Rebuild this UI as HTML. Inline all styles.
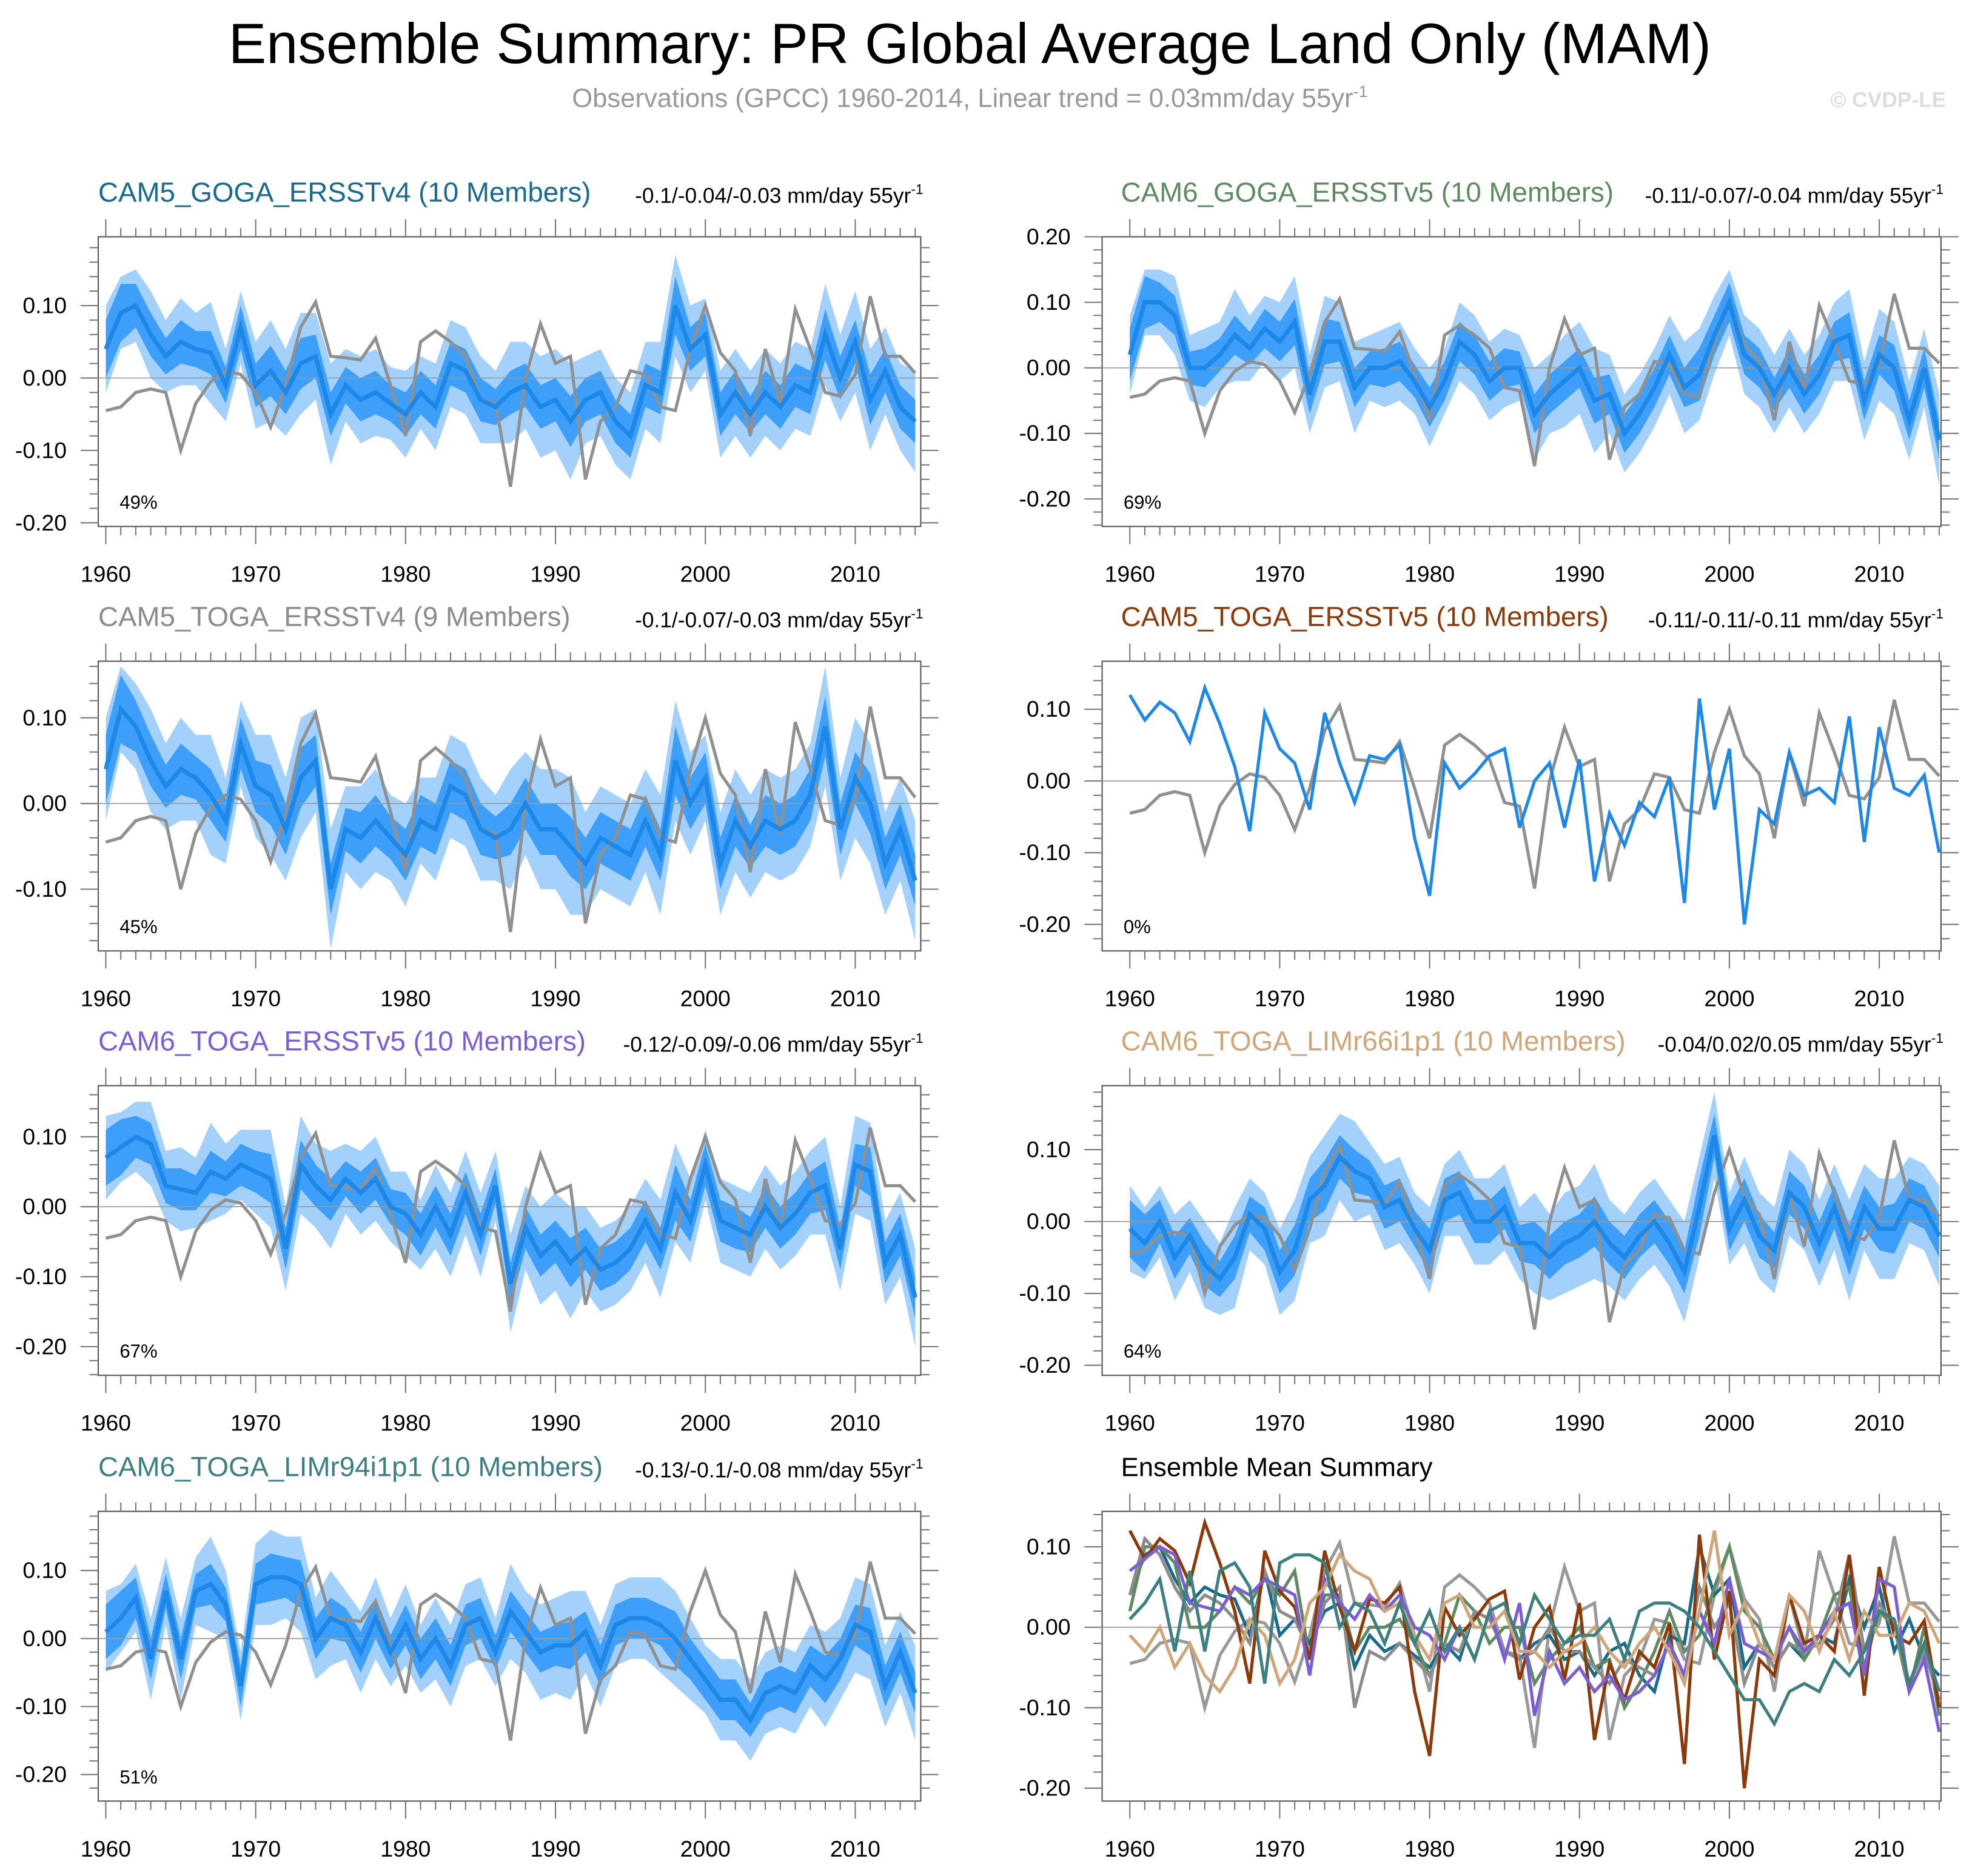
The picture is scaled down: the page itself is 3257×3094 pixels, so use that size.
<!DOCTYPE html>
<html><head><meta charset="utf-8"><style>
html,body{margin:0;padding:0;background:#fff}
svg{display:block}
text{font-family:"Liberation Sans",Arial,sans-serif}
</style></head><body>
<svg id="chart" width="3257" height="3094" viewBox="0 0 1568 1489.5" preserveAspectRatio="none" xmlns="http://www.w3.org/2000/svg">
<text x="770" y="50" font-size="45" text-anchor="middle" fill="#000">Ensemble Summary: PR Global Average Land Only (MAM)</text>
<text x="770" y="85" font-size="21" text-anchor="middle" fill="#999">Observations (GPCC) 1960-2014, Linear trend = 0.03mm/day 55yr<tspan dy="-8" font-size="13">-1</tspan></text>
<text x="1545" y="85" font-size="17" font-weight="bold" text-anchor="end" fill="#ddd">© CVDP-LE</text>
<g id="plots"></g>
</svg>
<script>
const years = [];
for (let y = 1960; y <= 2014; y++) years.push(y);
const obs = [-0.045,-0.04,-0.02,-0.015,-0.02,-0.10,-0.035,-0.005,0.01,0.005,-0.02,-0.068,-0.01,0.07,0.105,0.03,0.028,0.025,0.055,-0.01,-0.08,0.05,0.065,0.05,0.03,-0.03,-0.035,-0.15,0.0,0.075,0.02,0.03,-0.14,-0.06,-0.04,0.01,0.005,-0.04,-0.045,0.04,0.10,0.035,0.01,-0.08,0.04,-0.035,0.095,0.04,-0.02,-0.025,0.005,0.113,0.03,0.03,0.007];
const meanCAM5GOGA = [0.04,0.09,0.10,0.06,0.03,0.05,0.04,0.035,-0.01,0.07,-0.01,0.01,-0.02,0.02,0.03,-0.05,-0.01,-0.03,-0.02,-0.035,-0.05,-0.02,-0.04,0.02,0.01,-0.03,-0.04,-0.02,-0.01,-0.04,-0.03,-0.06,-0.03,-0.02,-0.06,-0.08,-0.01,-0.02,0.10,0.04,0.06,-0.05,-0.02,-0.05,-0.02,-0.04,-0.01,-0.02,0.06,0.0,0.05,-0.03,0.01,-0.04,-0.06];
const meanCAM6GOGA = [0.02,0.10,0.10,0.08,0.0,0.0,0.02,0.05,0.03,0.06,0.04,0.07,-0.04,0.04,0.04,-0.03,0.0,0.0,0.01,-0.02,-0.06,-0.02,0.04,0.02,-0.02,0.0,0.0,-0.07,-0.04,-0.02,0.0,-0.05,-0.04,-0.10,-0.07,-0.03,0.02,-0.03,-0.01,0.05,0.10,0.02,0.0,-0.04,0.0,-0.04,-0.01,0.04,0.05,-0.05,0.02,0.0,-0.08,0.0,-0.11];
const meanCAM5TOGAv4 = [0.04,0.11,0.09,0.05,0.02,0.04,0.03,0.01,-0.02,0.07,0.02,0.01,-0.03,0.03,0.05,-0.10,-0.03,-0.04,-0.02,-0.04,-0.06,-0.02,-0.03,0.02,0.01,-0.03,-0.04,-0.03,0.0,-0.03,-0.03,-0.05,-0.07,-0.04,-0.05,-0.06,-0.02,-0.06,0.05,0.0,0.03,-0.07,-0.02,-0.05,-0.02,-0.03,-0.02,0.01,0.09,-0.03,0.03,0.0,-0.07,-0.03,-0.09];
const meanCAM5TOGAv5 = [0.12,0.085,0.11,0.095,0.055,0.13,0.08,0.02,-0.07,0.095,0.045,0.025,-0.04,0.095,0.025,-0.03,0.035,0.03,0.05,-0.08,-0.16,0.025,-0.01,0.01,0.035,0.045,-0.065,0.0,0.025,-0.065,0.03,-0.14,-0.045,-0.09,-0.03,-0.05,0.005,-0.17,0.115,-0.04,0.045,-0.20,-0.04,-0.06,0.04,-0.02,-0.01,-0.03,0.09,-0.085,0.075,-0.01,-0.02,0.008,-0.10];
const meanCAM6TOGAv5 = [0.07,0.085,0.10,0.09,0.03,0.025,0.02,0.05,0.04,0.06,0.05,0.04,-0.06,0.06,0.03,0.01,0.04,0.02,0.04,0.0,-0.01,-0.04,0.0,-0.04,0.02,-0.04,0.03,-0.11,-0.03,-0.07,-0.05,-0.08,-0.06,-0.09,-0.08,-0.06,-0.02,-0.06,0.02,-0.02,0.06,-0.02,-0.03,-0.04,0.0,-0.03,-0.01,0.02,0.03,-0.06,0.06,0.05,-0.08,-0.04,-0.13];
const meanLIMr66 = [-0.01,-0.03,0.0,-0.05,-0.02,-0.06,-0.08,-0.05,0.01,-0.01,-0.07,-0.04,0.03,0.05,0.09,0.07,0.06,0.02,0.03,-0.01,-0.04,0.03,0.04,0.0,0.0,0.02,-0.03,-0.03,-0.05,-0.03,-0.02,0.0,-0.03,-0.05,-0.02,0.0,-0.03,-0.07,0.02,0.12,-0.01,0.03,-0.02,-0.04,0.04,0.02,-0.03,0.02,-0.04,0.02,-0.01,-0.01,0.03,0.02,-0.02];
const meanLIMr94 = [0.01,0.03,0.06,-0.03,0.07,-0.03,0.07,0.08,0.05,-0.07,0.08,0.09,0.09,0.08,0.0,0.03,0.02,-0.02,0.03,-0.02,0.02,-0.03,0.0,-0.04,0.02,0.03,-0.02,0.04,0.01,-0.02,-0.01,-0.01,0.01,-0.04,0.02,0.03,0.03,0.02,0.0,-0.03,-0.06,-0.09,-0.09,-0.12,-0.08,-0.07,-0.08,-0.04,-0.06,-0.03,0.02,0.01,-0.07,-0.02,-0.08];
const innerHW = [0.04,0.04,0.03,0.03,0.025,0.03,0.025,0.03,0.025,0.03,0.03,0.035,0.03,0.035,0.03,0.03,0.025,0.03,0.03,0.025,0.03,0.03,0.03,0.03,0.03,0.03,0.025,0.03,0.03,0.03,0.03,0.035,0.03,0.03,0.03,0.03,0.03,0.03,0.04,0.03,0.03,0.03,0.03,0.025,0.03,0.03,0.03,0.03,0.035,0.03,0.03,0.035,0.03,0.03,0.03];
const outerHW = [0.06,0.05,0.05,0.06,0.05,0.06,0.05,0.07,0.05,0.05,0.06,0.07,0.06,0.07,0.06,0.07,0.05,0.06,0.06,0.05,0.06,0.05,0.06,0.06,0.06,0.06,0.05,0.07,0.06,0.07,0.07,0.08,0.06,0.06,0.06,0.06,0.06,0.07,0.07,0.06,0.05,0.06,0.06,0.06,0.06,0.06,0.06,0.06,0.07,0.06,0.07,0.07,0.06,0.06,0.07];
const yTicks = [0.20,0.10,0.00,-0.10,-0.20];
const yTickLabels = ["0.20","0.10","0.00","-0.10","-0.20"];
const xTicks = [1960,1970,1980,1990,2000,2010];

const NS = "http://www.w3.org/2000/svg";
const root = document.getElementById("plots");
function el(tag, attrs, parent) {
  const e = document.createElementNS(NS, tag);
  for (const k in attrs) e.setAttribute(k, attrs[k]);
  (parent || root).appendChild(e);
  return e;
}
const panels = [
  {name:"cam5-goga-ersstv4",title:"CAM5_GOGA_ERSSTv4 (10 Members)",color:"#1a6a8c",trend:"-0.1/-0.04/-0.03 mm/day 55yr",pct:"49%",mean:meanCAM5GOGA,col:0,row:0,ymin:-0.205,ymax:0.195,band:true},
  {name:"cam6-goga-ersstv5",title:"CAM6_GOGA_ERSSTv5 (10 Members)",color:"#5f8a62",trend:"-0.11/-0.07/-0.04 mm/day 55yr",pct:"69%",mean:meanCAM6GOGA,col:1,row:0,ymin:-0.242,ymax:0.20,band:true},
  {name:"cam5-toga-ersstv4",title:"CAM5_TOGA_ERSSTv4 (9 Members)",color:"#8c8c8c",trend:"-0.1/-0.07/-0.03 mm/day 55yr",pct:"45%",mean:meanCAM5TOGAv4,col:0,row:1,ymin:-0.172,ymax:0.166,band:true},
  {name:"cam5-toga-ersstv5",title:"CAM5_TOGA_ERSSTv5 (10 Members)",color:"#8b3a0a",trend:"-0.11/-0.11/-0.11 mm/day 55yr",pct:"0%",mean:meanCAM5TOGAv5,col:1,row:1,ymin:-0.237,ymax:0.167,band:false},
  {name:"cam6-toga-ersstv5",title:"CAM6_TOGA_ERSSTv5 (10 Members)",color:"#7b5dd6",trend:"-0.12/-0.09/-0.06 mm/day 55yr",pct:"67%",mean:meanCAM6TOGAv5,col:0,row:2,ymin:-0.241,ymax:0.173,band:true},
  {name:"cam6-toga-limr66",title:"CAM6_TOGA_LIMr66i1p1 (10 Members)",color:"#cfa57a",trend:"-0.04/0.02/0.05 mm/day 55yr",pct:"64%",mean:meanLIMr66,col:1,row:2,ymin:-0.214,ymax:0.189,band:true},
  {name:"cam6-toga-limr94",title:"CAM6_TOGA_LIMr94i1p1 (10 Members)",color:"#3e8080",trend:"-0.13/-0.1/-0.08 mm/day 55yr",pct:"51%",mean:meanLIMr94,col:0,row:3,ymin:-0.239,ymax:0.187,band:true},
  {name:"ensemble-mean-summary",title:"Ensemble Mean Summary",color:"#000",trend:null,pct:null,mean:null,col:1,row:3,ymin:-0.216,ymax:0.144,band:false}
];
const boxX = [[78,731],[875,1541]];
const titleX = [78,890];
const boxY = [188,525,862,1200];
const BH = 230;

panels.forEach(p => {
  const g = el("g", {});
  
  
  const x0 = boxX[p.col][0], x1 = boxX[p.col][1], y0 = boxY[p.row], y1 = y0 + BH;
  const xOff = p.col === 0 ? 84 : 897;
  const xs = yr => xOff + (yr - 1960) * 11.9;
  const ys = v => y1 - (v - p.ymin) / (p.ymax - p.ymin) * BH;
  const t = el("text", {x: titleX[p.col], y: y0 - 28, "font-size": p.trend ? 22 : 21, fill: p.color}, g);
  t.textContent = p.title;
  
  
  if (p.trend) {
    const tr = el("text", {x: x1 + 2, y: y0 - 27, "font-size": 17, fill: "#000", "text-anchor": "end"}, g);
    tr.textContent = p.trend;
    const sp = el("tspan", {dy: -7, "font-size": 11}, tr);
    sp.textContent = "-1";
    
    
  }
  el("rect", {x: x0, y: y0, width: x1 - x0, height: BH, fill: "#fff", stroke: "#555", "stroke-width": 1}, g);
  const tk = el("g", {stroke: "#777", "stroke-width": 1}, g);
  
  
  for (let yr = 1960; yr <= 2014; yr++) {
    const len = yr % 10 === 0 ? 14 : 7, X = xs(yr);
    el("line", {x1: X, x2: X, y1: y1, y2: y1 + len}, tk);
    el("line", {x1: X, x2: X, y1: y0, y2: y0 - len}, tk);
  }
  for (let k = -30; k <= 30; k++) {
    const v = k * 0.02;
    if (v < p.ymin - 1e-9 || v > p.ymax + 1e-9) continue;
    const len = k % 5 === 0 ? 14 : 7, Y = ys(v);
    el("line", {x1: x0, x2: x0 - len, y1: Y, y2: Y}, tk);
    el("line", {x1: x1, x2: x1 + len, y1: Y, y2: Y}, tk);
  }
  yTicks.forEach((v, i) => {
    if (v < p.ymin - 1e-9 || v > p.ymax + 1e-9) return;
    const lb = el("text", {x: x0 - 25, y: ys(v) + 6, "font-size": 18, "text-anchor": "end", fill: "#000"}, g);
    lb.textContent = yTickLabels[i];
    
    
  });
  xTicks.forEach(yr => {
    const lb = el("text", {x: xs(yr), y: y1 + 44, "font-size": 18, "text-anchor": "middle", fill: "#000"}, g);
    lb.textContent = String(yr);
    
    
  });
  const path = arr => arr.map((v, i) => (i ? "L" : "M") + xs(years[i]).toFixed(1) + "," + ys(v).toFixed(1)).join("");
  const area = (lo, hi) => path(hi) + years.slice().reverse().map((yr, j) => { const i = years.length - 1 - j; return "L" + xs(yr).toFixed(1) + "," + ys(lo[i]).toFixed(1); }).join("") + "Z";
  if (p.band) {
    const oLo = p.mean.map((m, i) => m - outerHW[i]), oHi = p.mean.map((m, i) => m + outerHW[i]);
    const iLo = p.mean.map((m, i) => m - innerHW[i]), iHi = p.mean.map((m, i) => m + innerHW[i]);
    const a1 = el("path", {d: area(oLo, oHi), fill: "#a3d1fb"}, g);
    
    
    const a2 = el("path", {d: area(iLo, iHi), fill: "#3d9ffa"}, g);
    
    
  }
  el("line", {x1: x0, x2: x1, y1: ys(0), y2: ys(0), stroke: "#999", "stroke-width": 0.8}, g);
  if (p.mean) {
    const ob = el("path", {d: path(obs), fill: "none", stroke: "#909090", "stroke-width": 2.5}, g);
    
    
    const ml = el("path", {d: path(p.mean), fill: "none", stroke: "#1e88e8", "stroke-width": p.band ? 3.5 : 2.5}, g);
    
    
    const pc = el("text", {x: x0 + 17, y: y1 - 14, "font-size": 15, fill: "#000"}, g);
    pc.textContent = p.pct;
    
    
  } else {
    const ob = el("path", {d: path(obs), fill: "none", stroke: "#999", "stroke-width": 2.5}, g);
    
    
    panels.slice(0, 7).forEach(q => {
      const l = el("path", {d: path(q.mean), fill: "none", stroke: q.color, "stroke-width": 2.5}, g);
      
      
    });
  }
});
</script>
</body></html>
